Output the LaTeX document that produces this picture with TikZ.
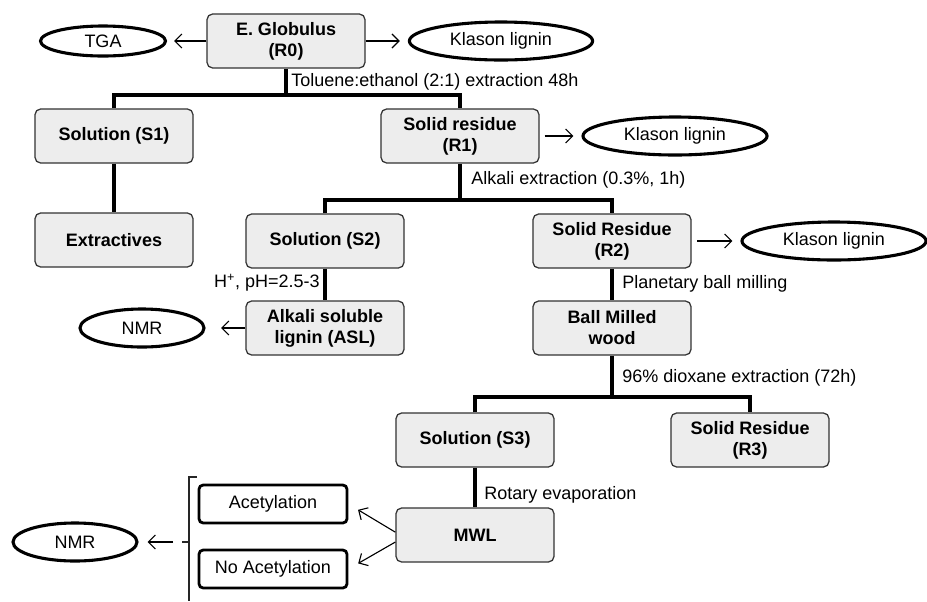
\documentclass[tikz,border=0pt]{standalone}
\usepackage{fontspec}
\setmainfont{Liberation Sans}
\usetikzlibrary{arrows.meta,shapes.geometric}

\begin{document}
\begin{tikzpicture}[x=0.025cm, y=-0.025cm,
        every node/.style={font=\fontsize{12.8}{15}\selectfont},
        box/.style={draw=black!80, line width=0.9pt, fill=black!7, rounded corners=4pt,
            minimum width=3.95cm, minimum height=1.35cm, align=center, inner sep=2pt,
            font=\fontsize{12.8}{15}\selectfont\bfseries},
        tag/.style={draw, ellipse, line width=2.2pt, inner sep=0pt, minimum height=0.95cm},
        plainbox/.style={draw, line width=2pt, rounded corners=3pt, fill=white,
            minimum width=3.7cm, minimum height=0.95cm},
        lab/.style={inner sep=0pt},
        branch/.style={line width=2.6pt},
        arr/.style={-{Straight Barb[length=5pt,width=10pt]}, line width=0.8pt}]
    \useasboundingbox (0,0) rectangle (927,601);
    % boxes
    \node [box] (r0) at (286,41) {E. Globulus\\(R0)};
    \node [box] (s1) at (114,136) {Solution (S1)};
    \node [box] (r1) at (460,136) {Solid residue\\(R1)};
    \node [box] (ext) at (114,240) {Extractives};
    \node [box] (s2) at (325,241) {Solution (S2)};
    \node [box] (r2) at (612,241) {Solid Residue\\(R2)};
    \node [box] (asl) at (325,328) {Alkali soluble\\lignin (ASL)};
    \node [box] (bmw) at (612,328) {Ball Milled\\wood};
    \node [box] (s3) at (475,440) {Solution (S3)};
    \node [box] (r3) at (750,440) {Solid Residue\\(R3)};
    \node [box] (mwl) at (475,535) {MWL};
    \node [plainbox] (acet) at (273,504) {Acetylation};
    \node [plainbox] (noac) at (273,569) {No Acetylation};
    % analyses
    \node [tag, minimum width=3.125cm, minimum height=0.75cm] (tga) at (103,41) {TGA};
    \node [tag, minimum width=4.58cm] (kl0) at (501,41) {Klason lignin};
    \node [tag, minimum width=4.6cm] (kl1) at (675,136) {Klason lignin};
    \node [tag, minimum width=4.6cm] (kl2) at (834,241) {Klason lignin};
    \node [tag, minimum width=3.1cm] (nmr1) at (142,328) {NMR};
    \node [tag, minimum width=3.1cm] (nmr2) at (75,542) {NMR};
    % steps
    \node [lab, anchor=west] (t0) at (291,82) {Toluene:ethanol (2:1) extraction 48h};
    \node [lab, anchor=west] (t1) at (471,180) {Alkali extraction (0.3\%, 1h)};
    \node [lab, anchor=east] (t2) at (320,283) {H\textsuperscript{+}, pH=2.5-3};
    \node [lab, anchor=west] (t3) at (622,284) {Planetary ball milling};
    \node [lab, anchor=west] (t4) at (622,378) {96\% dioxane extraction (72h)};
    \node [lab, anchor=west] (t5) at (484,495) {Rotary evaporation};
    % tree
    \coordinate (j0) at (286,95);
    \coordinate (j1) at (460,200);
    \coordinate (j2) at (612,397);
    \draw [branch] (r0.south) -- (j0);
    \draw [branch] (s1.north) |- (j0) -| (r1.north);
    \draw [branch] (s1.south) -- (ext.north);
    \draw [branch] (r1.south) -- (j1);
    \draw [branch] (s2.north) |- (j1) -| (r2.north);
    \draw [branch] (s2.south) -- (asl.north);
    \draw [branch] (r2.south) -- (bmw.north);
    \draw [branch] (bmw.south) -- (j2);
    \draw [branch] (s3.north) |- (j2) -| (r3.north);
    \draw [branch] (s3.south) -- (mwl.north);
    % arrows
    \draw [arr, shorten >=5pt] (r0) -- (tga);
    \draw [arr, shorten >=5.7pt] (r0) -- (kl0);
    \draw [arr, shorten <=3.5pt, shorten >=5.7pt] (r1) -- (kl1);
    \draw [arr, shorten <=4pt, shorten >=5.7pt] (r2) -- (kl2);
    \draw [arr, shorten >=11pt] (asl) -- (nmr1);
    \draw [arr, shorten >=8pt] ([yshift=2pt]mwl.west) -- (acet.east);
    \draw [arr, shorten >=8pt] ([yshift=-5pt]mwl.west) -- (noac.east);
    % bracket
    \coordinate (brk) at (182,542);
    \draw [line width=0.8pt, black!85] (197,477) -- (189,477) -- (189,601);
    \draw [line width=0.8pt, black!85] (189,542) -- (brk);
    \draw [arr, shorten <=6.4pt, shorten >=6.4pt] (brk) -- (nmr2);
\end{tikzpicture}
\end{document}
